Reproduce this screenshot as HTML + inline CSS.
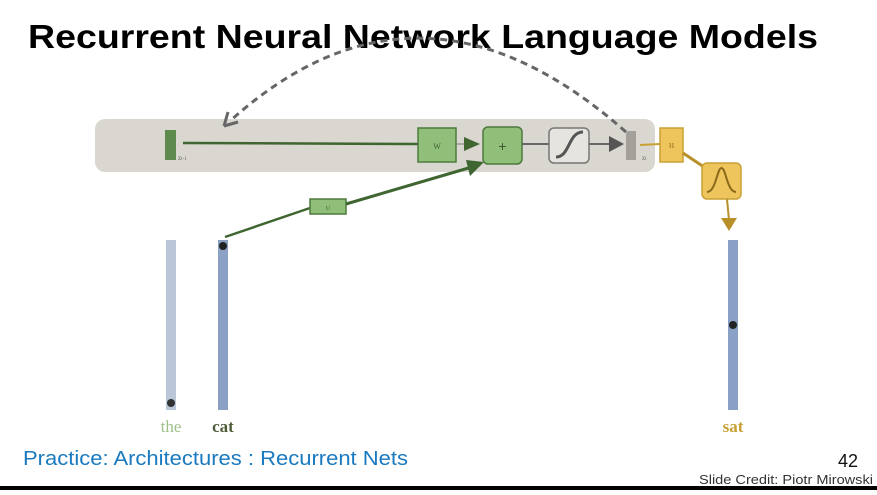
<!DOCTYPE html>
<html><head><style>
html,body{margin:0;padding:0;background:#fff;}
body{width:877px;height:490px;overflow:hidden;position:relative;}
</style></head><body>
<svg width="877" height="490" viewBox="0 0 877 490" xmlns="http://www.w3.org/2000/svg">
<text x="28" y="48" font-family="Liberation Sans, sans-serif" font-weight="bold" font-size="33" textLength="790" lengthAdjust="spacingAndGlyphs" fill="#000">Recurrent Neural Network Language Models</text>
<rect x="95" y="119" width="560" height="53" rx="10" fill="#d9d7cf"/>
<path d="M626,132 Q420,-50 230,121" fill="none" stroke="#666" stroke-width="3" stroke-dasharray="7,5"/>
<path d="M224,126 L228,112 M224,126 L238,122" stroke="#666" stroke-width="3" fill="none"/>
<rect x="165" y="130" width="11" height="30" fill="#5e8a4e"/>
<text x="178" y="160" font-family="Liberation Serif, serif" font-size="7" fill="#666">z<tspan font-size="5">t-1</tspan></text>
<line x1="183" y1="143" x2="418" y2="144" stroke="#3f6530" stroke-width="2.5"/>
<rect x="418" y="128" width="38" height="34" fill="#8fbf78" stroke="#4e7a3e" stroke-width="1.5"/>
<text x="437" y="149" font-family="Liberation Serif, serif" font-size="8" fill="#3d5a30" text-anchor="middle">W</text>
<line x1="456" y1="144" x2="470" y2="144" stroke="#777" stroke-width="1"/>
<polygon points="464,137 480,144 464,151" fill="#3f6530"/>
<rect x="483" y="127" width="39" height="37" rx="5" fill="#8fbf78" stroke="#4e7a3e" stroke-width="1.5"/>
<text x="502.5" y="151" font-family="Liberation Sans, sans-serif" font-size="14" fill="#3d5a30" text-anchor="middle">+</text>
<line x1="522" y1="144" x2="549" y2="144" stroke="#666" stroke-width="2"/>
<rect x="549" y="128" width="40" height="35" rx="5" fill="#e6e4de" stroke="#777" stroke-width="1.5"/>
<path d="M556,157 C570,157 568,132 583,132" fill="none" stroke="#555" stroke-width="3"/>
<line x1="589" y1="144" x2="612" y2="144" stroke="#666" stroke-width="2"/>
<polygon points="609,136 624,144 609,152" fill="#555"/>
<rect x="626" y="131" width="10" height="29" fill="#a4a19c"/>
<text x="642" y="160" font-family="Liberation Serif, serif" font-size="7" fill="#666">z<tspan font-size="5">t</tspan></text>
<line x1="640" y1="145" x2="660" y2="144" stroke="#c9a035" stroke-width="2"/>
<rect x="660" y="128" width="23" height="34" fill="#eec55c" stroke="#c9a035" stroke-width="1.5"/>
<text x="671.5" y="148" font-family="Liberation Serif, serif" font-size="7" fill="#8a6a1a" text-anchor="middle">H</text>
<line x1="683" y1="153" x2="704" y2="167" stroke="#b8902a" stroke-width="3"/>
<rect x="702" y="163" width="39" height="36" rx="5" fill="#eec55c" stroke="#c9a035" stroke-width="1.5"/>
<path d="M707,192 C716,192 717,168 721.5,168 C726,168 727,192 736,192" fill="none" stroke="#8a6a1a" stroke-width="2"/>
<line x1="727" y1="199" x2="729" y2="220" stroke="#b8902a" stroke-width="2"/>
<polygon points="721,218 737,218 729,231" fill="#b8902a"/>
<line x1="225" y1="237" x2="310" y2="208" stroke="#3f6530" stroke-width="2.5"/>
<rect x="310" y="199" width="36" height="15" fill="#8fbf78" stroke="#4e7a3e" stroke-width="1.5"/>
<text x="328" y="210" font-family="Liberation Serif, serif" font-size="6" fill="#3d5a30" text-anchor="middle">U</text>
<line x1="346" y1="204" x2="472" y2="167" stroke="#3f6530" stroke-width="3"/>
<polygon points="466,160 484,162 470,176" fill="#3f6530"/>
<rect x="166" y="240" width="10" height="170" fill="#b9c7d9"/>
<circle cx="171" cy="403" r="4" fill="#333"/>
<rect x="218" y="240" width="10" height="170" fill="#8aa0c4"/>
<circle cx="223" cy="246" r="4" fill="#222"/>
<rect x="728" y="240" width="10" height="170" fill="#8aa0c4"/>
<circle cx="733" cy="325" r="4" fill="#222"/>
<text x="171" y="432" font-family="Liberation Serif, serif" font-size="17" fill="#9cc08a" text-anchor="middle">the</text>
<text x="223" y="432" font-family="Liberation Serif, serif" font-size="17" font-weight="bold" fill="#4f5e3a" text-anchor="middle">cat</text>
<text x="733" y="432" font-family="Liberation Serif, serif" font-size="17" font-weight="bold" fill="#c9a035" text-anchor="middle">sat</text>
<text x="23" y="465" font-family="Liberation Sans, sans-serif" font-size="20" fill="#1a7ac0" textLength="385" lengthAdjust="spacingAndGlyphs">Practice: Architectures : Recurrent Nets</text>
<text x="858" y="467" font-family="Liberation Sans, sans-serif" font-size="18" fill="#111" text-anchor="end">42</text>
<text x="699" y="484" font-family="Liberation Sans, sans-serif" font-size="13" fill="#333" textLength="174" lengthAdjust="spacingAndGlyphs">Slide Credit: Piotr Mirowski</text>
<rect x="0" y="486" width="877" height="4" fill="#000"/>
</svg>
</body></html>
